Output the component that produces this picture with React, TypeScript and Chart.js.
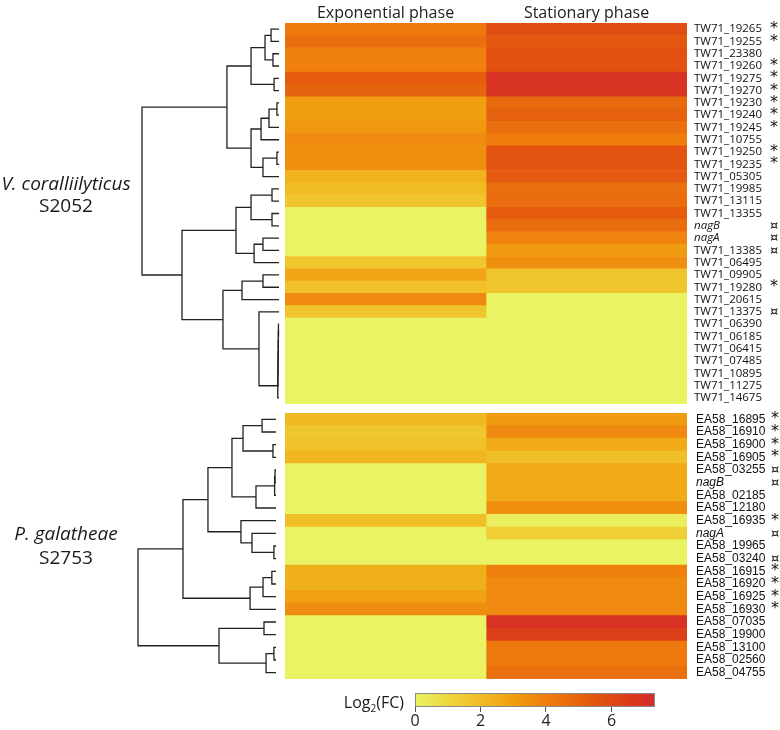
import React, { useEffect, useRef } from "react";
import { Chart, registerables } from "chart.js";
Chart.register(...registerables);

// ---------- data ----------
const phases = ["Exponential phase", "Stationary phase"];

const vcGenes = ["TW71_19265","TW71_19255","TW71_23380","TW71_19260","TW71_19275","TW71_19270","TW71_19230","TW71_19240","TW71_19245","TW71_10755","TW71_19250","TW71_19235","TW71_05305","TW71_19985","TW71_13115","TW71_13355","nagB","nagA","TW71_13385","TW71_06495","TW71_09905","TW71_19280","TW71_20615","TW71_13375","TW71_06390","TW71_06185","TW71_06415","TW71_07485","TW71_10895","TW71_11275","TW71_14675"];
const vcMarks = ["*","*","","*","*","*","*","*","*","","*","*","","","","","¤","¤","¤","","","*","","¤","","","","","","",""];
const vcExponential = [4.3,4.6,4.0,4.0,5.3,5.0,3.0,3.0,3.2,3.7,3.5,3.5,2.3,2.0,1.7,0,0,0,0,1.6,2.8,1.8,3.7,1.7,0,0,0,0,0,0,0];
const vcStationary = [5.9,5.5,5.8,5.7,7.0,6.9,4.8,5.1,4.6,4.1,5.6,5.6,5.4,4.6,4.7,5.3,4.7,3.9,3.1,3.5,1.7,1.7,0,0,0,0,0,0,0,0,0];

const pgGenes = ["EA58_16895","EA58_16910","EA58_16900","EA58_16905","EA58_03255","nagB","EA58_02185","EA58_12180","EA58_16935","nagA","EA58_19965","EA58_03240","EA58_16915","EA58_16920","EA58_16925","EA58_16930","EA58_07035","EA58_19900","EA58_13100","EA58_02560","EA58_04755"];
const pgMarks = ["*","*","*","*","¤","¤","","","*","¤","","¤","*","*","*","*","","","","",""];
const pgExponential = [2.1,1.6,1.8,2.2,0,0,0,0,1.9,0,0,0,2.4,2.4,2.9,3.6,0,0,0,0,0];
const pgStationary = [3.1,3.7,2.6,1.9,2.6,2.6,2.6,3.5,0.2,1.3,0,0,4.0,3.7,3.7,3.7,7.0,6.4,4.3,4.3,4.6];

// dendrograms: [left, right, height]; leaves are row indices
type Tree = number | [Tree, Tree, number];
const vcTree: Tree = [
  [
    [[[0, 1, 0.058], [2, 3, 0.044], 0.102], [4, 5, 0.036], 0.204],
    [[[[6, 7, 0.015], 8, 0.073], 9, 0.131], [[10, 11, 0.015], 12, 0.117], 0.204],
    0.38,
  ],
  [
    [[[13, 14, 0.051], [15, 16, 0.051], 0.204], [[17, 18, 0.117], 19, 0.182], 0.314],
    [
      [[20, 21, 0.117], 22, 0.27],
      [23, [[[[[[24, 25, 0.004], 26, 0.005], 27, 0.006], 28, 0.007], 29, 0.008], 30, 0.009], 0.146],
      0.409,
    ],
    0.708,
  ],
  1.0,
];
const pgTree: Tree = [
  [
    [
      [[[0, 1, 0.101], [2, 3, 0.022], 0.239], [[[4, 5, 0.007], 6, 0.01], 7, 0.145], 0.319],
      [[[10, 11, 0.015], 9, 0.174], 8, 0.254],
      0.493,
    ],
    [[[12, 13, 0.03], 14, 0.094], 15, 0.188],
    0.674,
  ],
  [[16, 17, 0.087], [[18, 19, 0.015], 20, 0.072], 0.413],
  1.0,
];

const colorStops = [0, 0.5, 1, 2, 3, 4, 5, 6, 7, 7.33];
const colorRGB = [
  [233, 243, 100],
  [236, 230, 84],
  [238, 214, 62],
  [240, 188, 36],
  [241, 158, 16],
  [239, 128, 14],
  [231, 100, 14],
  [223, 74, 18],
  [216, 50, 36],
  [212, 44, 44],
];
const colorbarTicks = [0, 2, 4, 6];
const colorbarMax = 7.33;

// ---------- helpers ----------
function colorFor(v: number): string {
  if (v <= colorStops[0]) return `rgb(${colorRGB[0].join(",")})`;
  for (let i = 1; i < colorStops.length; i++) {
    if (v <= colorStops[i]) {
      const t = (v - colorStops[i - 1]) / (colorStops[i] - colorStops[i - 1]);
      const a = colorRGB[i - 1], b = colorRGB[i];
      const c = a.map((x, k) => Math.round(x + (b[k] - x) * t));
      return `rgb(${c.join(",")})`;
    }
  }
  return `rgb(${colorRGB[colorRGB.length - 1].join(",")})`;
}

function buildLinks(tree: Tree) {
  const links: { x: number; y: number }[][] = [];
  const walk = (t: Tree): { y: number; h: number } => {
    if (typeof t === "number") return { y: t, h: 0 };
    const a = walk(t[0]);
    const b = walk(t[1]);
    links.push([
      { x: a.h, y: a.y },
      { x: t[2], y: a.y },
      { x: t[2], y: b.y },
      { x: b.h, y: b.y },
    ]);
    return { y: (a.y + b.y) / 2, h: t[2] };
  };
  walk(tree);
  return links;
}

function dendroConfig(tree: Tree, n: number, pad: any): any {
  const links = buildLinks(tree);
  return {
    type: "scatter",
    data: {
      datasets: links.map((l) => ({
        data: l,
        showLine: true,
        pointRadius: 0,
        borderColor: "#222",
        borderWidth: 1.3,
        tension: 0,
        clip: false,
      })),
    },
    options: {
      responsive: false,
      animation: false,
      events: [],
      layout: { padding: pad },
      plugins: { legend: { display: false }, tooltip: { enabled: false } },
      scales: {
        x: { type: "linear", min: 0, max: 1, reverse: true, display: false },
        y: { type: "linear", min: -0.5, max: n - 0.5, reverse: true, display: false },
      },
    },
  };
}

const noPad = (s: any) => {
  s.paddingTop = 0;
  s.paddingBottom = 0;
};

function heatmapConfig(
  genes: string[],
  exp: number[],
  stat: number[],
  marks: string[],
  o: { family: string; size: number; labelPad: number; markPad: number; header: boolean; pad: any }
): any {
  const scales: any = {
    x: { type: "linear", min: 0, max: 2, display: false },
    y: {
      type: "category",
      position: "right",
      offset: true,
      grid: { display: false, drawTicks: false },
      border: { display: false },
      ticks: {
        autoSkip: false,
        padding: o.labelPad,
        color: "#111",
        font: (c: any) => ({
          family: o.family,
          size: o.size,
          style: c.tick && /^nag/.test(String(c.tick.label)) ? "italic" : "normal",
        }),
      },
      afterFit: (s: any) => {
        s.width = 80;
        noPad(s);
      },
    },
    yMark: {
      type: "category",
      axis: "y",
      position: "right",
      labels: marks,
      offset: true,
      weight: 1,
      grid: { display: false, drawTicks: false },
      border: { display: false },
      ticks: {
        autoSkip: false,
        padding: o.markPad,
        color: "#111",
        font: (c: any) => ({
          family: "DejaVu Sans",
          size: c.tick && c.tick.label === "*" ? 16 : 13,
        }),
      },
      afterFit: (s: any) => {
        s.width = 13;
        noPad(s);
      },
    },
  };
  if (o.header) {
    scales.xHead = {
      type: "category",
      axis: "x",
      position: "top",
      labels: phases,
      offset: true,
      grid: { display: false, drawTicks: false, offset: false },
      border: { display: false },
      ticks: { font: { family: "Open Sans", size: 16 }, color: "#222", padding: 0 },
      afterFit: (s: any) => {
        s.height = 23;
      },
    };
  }
  return {
    type: "bar",
    data: {
      labels: genes,
      datasets: [
        { data: genes.map(() => [0, 1]), backgroundColor: exp.map(colorFor) },
        { data: genes.map(() => [1, 2]), backgroundColor: stat.map(colorFor) },
      ],
    },
    options: {
      indexAxis: "y",
      responsive: false,
      animation: false,
      events: [],
      layout: { padding: o.pad },
      plugins: { legend: { display: false }, tooltip: { enabled: false } },
      datasets: {
        bar: { grouped: false, barPercentage: 1, categoryPercentage: 1, borderWidth: 0 },
      },
      scales,
    },
  };
}

const outlinePlugin = {
  id: "outline",
  afterDatasetsDraw(chart: any) {
    const { ctx, chartArea: a } = chart;
    ctx.save();
    ctx.strokeStyle = "#8a8a8a";
    ctx.lineWidth = 1;
    ctx.strokeRect(a.left + 0.5, a.top + 0.5, a.width - 1, a.height - 1);
    ctx.restore();
  },
};

function colorbarConfig(): any {
  const nSlices = 120;
  const step = colorbarMax / nSlices;
  const centers = Array.from({ length: nSlices }, (_, i) => (i + 0.5) * step);
  return {
    type: "bar",
    data: {
      datasets: [
        {
          data: centers.map((v) => ({ x: v, y: 1 })),
          backgroundColor: centers.map(colorFor),
          borderWidth: 0,
          barPercentage: 1,
          categoryPercentage: 1,
        },
      ],
    },
    options: {
      responsive: false,
      animation: false,
      events: [],
      layout: { padding: { left: 15, right: 15, top: 7, bottom: 0 } },
      plugins: { legend: { display: false }, tooltip: { enabled: false } },
      scales: {
        x: {
          type: "linear",
          min: 0,
          max: colorbarMax,
          offset: false,
          grid: { display: true, offset: false, drawOnChartArea: false, drawTicks: true, tickLength: 5, color: "#555" },
          border: { display: false },
          ticks: { font: { family: "Open Sans", size: 16 }, color: "#222", padding: 0 },
          afterBuildTicks: (s: any) => {
            s.ticks = colorbarTicks.map((v) => ({ value: v }));
          },
          afterFit: (s: any) => {
            s.height = 23;
          },
        },
        y: { type: "linear", min: 0, max: 1, display: false },
      },
    },
    plugins: [outlinePlugin],
  };
}

function ChartBox(props: { left: number; top: number; width: number; height: number; make: () => any }) {
  const ref = useRef<HTMLCanvasElement>(null);
  useEffect(() => {
    const chart = new Chart(ref.current as HTMLCanvasElement, props.make());
    return () => chart.destroy();
  }, []);
  return (
    <canvas
      ref={ref}
      width={props.width}
      height={props.height}
      style={{ position: "absolute", left: props.left, top: props.top, width: props.width, height: props.height, display: "block" }}
    />
  );
}

const labelStyle = (top: number, italic: boolean): React.CSSProperties => ({
  position: "absolute",
  left: 0,
  top,
  width: 132,
  textAlign: "center",
  fontFamily: '"Open Sans"',
  fontSize: 19,
  fontStyle: italic ? "italic" : "normal",
  lineHeight: "22px",
  color: "#1a1a1a",
  whiteSpace: "nowrap",
});

export default function App() {
  return (
    <div style={{ position: "absolute", left: 0, top: 0, width: 780, height: 730, background: "#fff", overflow: "hidden" }}>
      <ChartBox left={0} top={0} width={285} height={410} make={() => dendroConfig(vcTree, vcGenes.length, { left: 142, right: 6, top: 23, bottom: 6 })} />
      <ChartBox
        left={280}
        top={0}
        width={500}
        height={410}
        make={() =>
          heatmapConfig(vcGenes, vcExponential, vcStationary, vcMarks, {
            family: "Open Sans",
            size: 11.5,
            labelPad: 7,
            markPad: 3,
            header: true,
            pad: { left: 5, right: 0, top: 0, bottom: 6 },
          })
        }
      />
      <ChartBox left={0} top={408} width={285} height={280} make={() => dendroConfig(pgTree, pgGenes.length, { left: 138, right: 9, top: 5, bottom: 9 })} />
      <ChartBox
        left={280}
        top={408}
        width={500}
        height={280}
        make={() =>
          heatmapConfig(pgGenes, pgExponential, pgStationary, pgMarks, {
            family: "Liberation Sans",
            size: 12,
            labelPad: 9,
            markPad: 4,
            header: false,
            pad: { left: 5, right: 0, top: 5, bottom: 9 },
          })
        }
      />
      <ChartBox left={400} top={686} width={270} height={44} make={colorbarConfig} />
      <div style={labelStyle(172, true)}>V. coralliilyticus</div>
      <div style={labelStyle(194, false)}>S2052</div>
      <div style={labelStyle(522, true)}>P. galatheae</div>
      <div style={labelStyle(546, false)}>S2753</div>
      <div
        style={{
          position: "absolute",
          left: 300,
          top: 692,
          width: 104,
          textAlign: "right",
          fontFamily: '"Open Sans"',
          fontSize: 16,
          lineHeight: "20px",
          color: "#1a1a1a",
          whiteSpace: "nowrap",
        }}
      >
        Log<sub style={{ fontSize: 10, lineHeight: 0 }}>2</sub>(FC)
      </div>
    </div>
  );
}
